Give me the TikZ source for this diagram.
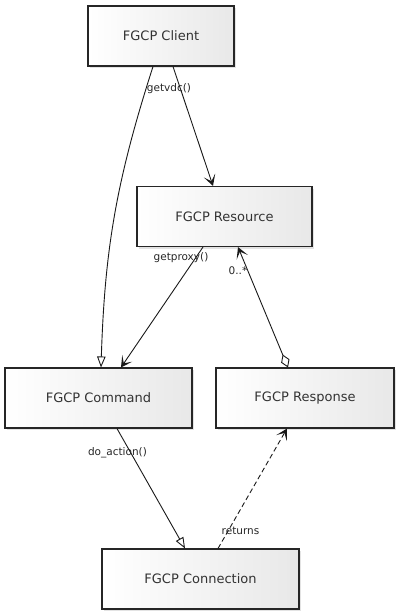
\documentclass[tikz,border=0pt]{standalone}
\usepackage{fontspec}
\setmainfont{DejaVu Sans}
\usetikzlibrary{arrows.meta}
\usetikzlibrary{shadows}

\begin{document}
\begin{tikzpicture}[x=1pt,y=-1pt,
  cls/.style={draw=black!85,line width=1.1pt,left color=white,right color=black!9,
    drop shadow={opacity=0.22,shadow xshift=2pt,shadow yshift=-2pt},
    minimum height=60pt,inner sep=0pt,text=black!80,font=\fontsize{13}{15}\selectfont},
  lbl/.style={inner sep=0pt,text=black!85,font=\fontsize{10.5}{12}\selectfont},
  link/.style={draw=black!90,line width=0.9pt},
  gen/.style={-{Triangle[open,length=11pt,width=8.5pt]}},
  assoc/.style={-{Stealth[length=11pt,width=12pt,inset=6pt,line width=1.3pt]}},
  agg/.style={{Diamond[open,length=14pt,width=9pt]}-{Stealth[length=11pt,width=12pt,inset=6pt,line width=1.3pt]}}]
\useasboundingbox (0,0) rectangle (400,616);
\node (client) [cls,minimum width=146pt] at (161,36) {FGCP Client};
\node (resource) [cls,minimum width=175pt] at (224.5,216.5) {FGCP Resource};
\node (command) [cls,minimum width=187pt] at (98.5,398) {FGCP Command};
\node (response) [cls,minimum width=178pt] at (305,398) {FGCP Response};
\node (connection) [cls,minimum width=197pt] at (200.5,579) {FGCP Connection};
\draw [link,gen] ([xshift=-8pt]client.south) to[bend right=8] ([xshift=2.5pt]command.north);
\draw [link,assoc] ([xshift=12pt]client.south) -- ([xshift=-11.5pt]resource.north);
\draw [link,assoc] ([xshift=-21.5pt]resource.south) -- ([xshift=22.5pt]command.north);
\draw [link,agg] ([xshift=-17pt]response.north) -- ([xshift=13.5pt]resource.south);
\draw [link,gen] ([xshift=18.5pt]command.south) -- ([xshift=-15.5pt]connection.north);
\draw [link,assoc,dash pattern=on 5pt off 3pt] ([xshift=17.5pt]connection.north) -- ([xshift=-18pt]response.south);
\node (getvdc) [lbl] at (169,89) {getvdc()};
\node (getproxy) [lbl] at (181,258) {getproxy()};
\node (many) [lbl] at (238,271) {0..*};
\node (doaction) [lbl] at (117.5,453) {do\_action()};
\node (returns) [lbl] at (240.5,531) {returns};
\end{tikzpicture}
\end{document}
